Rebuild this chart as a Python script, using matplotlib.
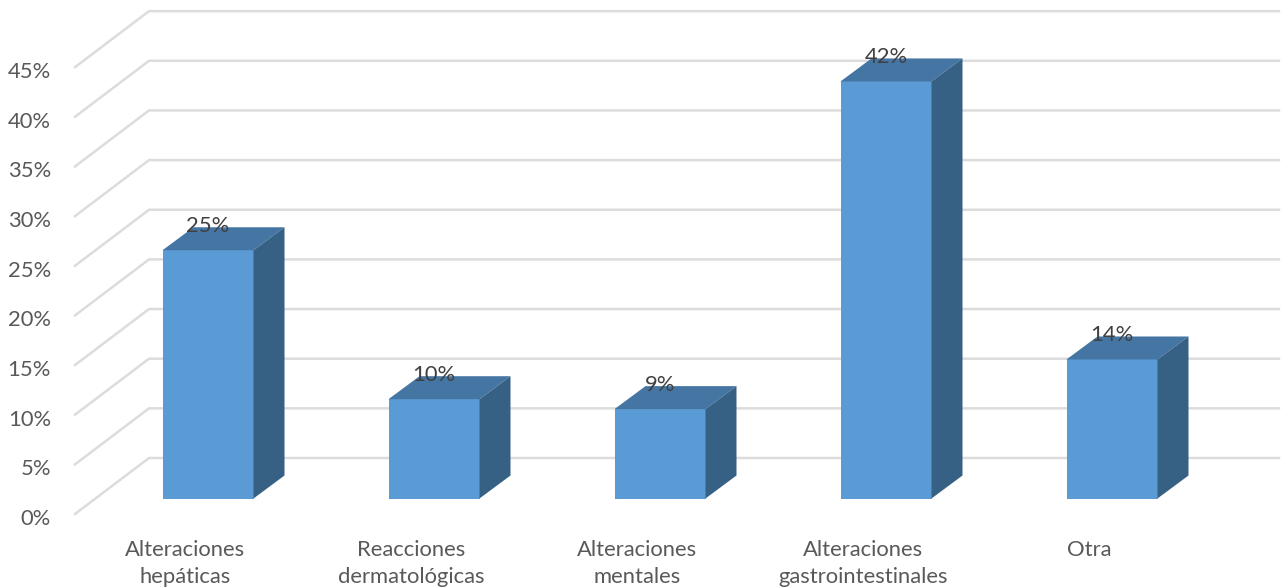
import matplotlib
matplotlib.use('Agg')
import matplotlib.pyplot as plt
from matplotlib.patches import Polygon

plt.rcParams['font.family'] = ['Lato', 'DejaVu Sans']

# datos del gráfico
categorias = ['Alteraciones\nhepáticas', 'Reacciones\ndermatológicas', 'Alteraciones\nmentales',
              'Alteraciones\ngastrointestinales', 'Otra']
valores = [25, 10, 9, 42, 14]
etiquetas_valor = ['25%', '10%', '9%', '42%', '14%']
ticks_y = [0, 5, 10, 15, 20, 25, 30, 35, 40, 45]
etiquetas_y = ['0%', '5%', '10%', '15%', '20%', '25%', '30%', '35%', '40%', '45%']

# escala en pixeles de la figura
ANCHO, ALTO = 1284, 588
PX_POR_PCT = 9.93
CAT_PASO = 226
CAT_0 = 208
BASE_BARRA = 498.5
ANCHO_BARRA = 91
PROF_BARRA = (31, -23)
# pared del fondo y suelo frontal
PARED_X, PARED_BASE = 149, 458
FRENTE_X, FRENTE_BASE = 75, 514
FIN_REJILLA = 1279


def px(cat):
    return CAT_0 + CAT_PASO * cat


def py(val, base=BASE_BARRA):
    return base - PX_POR_PCT * val


fig = plt.figure(figsize=(ANCHO / 100, ALTO / 100), dpi=100)
ax = fig.add_axes([0, 0, 1, 1])
ax.set_xlim(0, ANCHO)
ax.set_ylim(ALTO, 0)
ax.axis('off')

# rejilla 3D
color_rejilla = '#dcdcdc'
for t, lab in zip(ticks_y, etiquetas_y):
    y_fondo = py(t, PARED_BASE)
    y_frente = py(t, FRENTE_BASE)
    ax.plot([FRENTE_X, PARED_X, FIN_REJILLA], [y_frente, y_fondo, y_fondo], color=color_rejilla, lw=1.8,
            solid_joinstyle='miter', zorder=1)
    ax.text(51, y_frente + 5, lab, ha='right', va='center', fontsize=15.8, color='#595959')

# barras: frente, techo y lateral
for i, v in enumerate(valores):
    izq = px(i) - ANCHO_BARRA / 2
    der = px(i) + ANCHO_BARRA / 2
    arriba = py(v)
    dx, dy = PROF_BARRA
    ax.add_patch(Polygon([(izq, BASE_BARRA), (der, BASE_BARRA), (der, arriba), (izq, arriba)],
                         fc='#5b9bd5', ec='none', zorder=3))
    ax.add_patch(Polygon([(izq, arriba), (der, arriba), (der + dx, arriba + dy), (izq + dx, arriba + dy)],
                         fc='#4475a3', ec='none', zorder=3))
    ax.add_patch(Polygon([(der, BASE_BARRA), (der + dx, BASE_BARRA + dy), (der + dx, arriba + dy), (der, arriba)],
                         fc='#366185', ec='none', zorder=3))
    ax.text(px(i), arriba - 24, etiquetas_valor[i], ha='center', va='center', fontsize=15.8,
            color='#404040', zorder=4)

# etiquetas de categoria
for i, c in enumerate(categorias):
    ax.text(px(i) - 23, 540, c, ha='center', va='top', fontsize=15.8, color='#595959',
            linespacing=1.45)

fig.savefig('out.png', dpi=100)
